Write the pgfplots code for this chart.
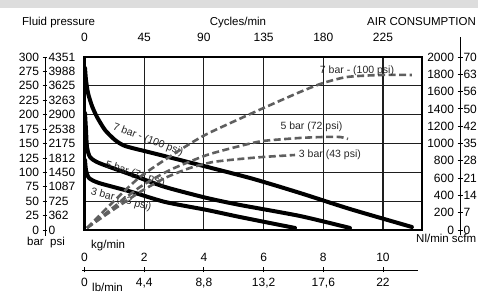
\documentclass[border=0pt]{standalone}
\usepackage{pgfplots}
\pgfplotsset{compat=1.18}
\usepackage{fontspec}
\setmainfont{Liberation Sans}
\definecolor{band}{RGB}{221,221,221}
\definecolor{dashgray}{RGB}{95,95,95}
\definecolor{gridc}{RGB}{30,30,30}
\newcommand{\tf}{\fontsize{12}{14}\selectfont}
\newcommand{\lf}{\fontsize{11.5}{13}\selectfont}
\newcommand{\cf}{\fontsize{10.5}{12}\selectfont}
\pgfplotsset{
  every axis/.append style={scale only axis, clip=false,
    /pgf/number format/assume math mode=true,
    /pgf/number format/1000 sep={},
    ticklabel style={font=\tf},
  },
}
\begin{document}
\begin{tikzpicture}[x=1pt,y=1pt]
\useasboundingbox (0pt,0pt) rectangle (491pt,296pt);
\fill[band] (0pt,288pt) rectangle (478pt,296pt);
% ---------- main axis (fluid pressure, bar) ----------
\begin{axis}[at={(84.5pt,66pt)}, anchor=south west, width=337.5pt, height=173pt,
  xmin=0, xmax=254.4, ymin=0, ymax=300,
  xtick={0,45,90,135,180,225}, ytick={0,50,100,150,200,250,300}, yticklabels={},
  xticklabel pos=upper, major tick length=0pt,
  xticklabel style={yshift=12pt},
  grid=major, grid style={gridc, line width=1.2pt},
  axis line style={black, line width=2.4pt},
]
\addplot[black, line width=4pt, smooth, tension=0.4, line cap=round] coordinates {
(0.38,280.9) (1.13,260.1) (2.64,237.6) (5.65,215.0) (9.42,196.0) (15.45,173.4) (22.99,156.1) (30.53,145.7) (48.6,135) (71.98,121.4) (124.7,90.2) (162.4,64.2) (200.1,36.4) (246.8,5.2)};
\addplot[black, line width=4pt, smooth, tension=0.4, line cap=round] coordinates {
(0.38,202.9) (1.13,173.4) (1.88,143.9) (4.15,126.6) (10.93,116.2) (35.8,95.4) (60.7,74.6) (92.3,55.5) (117.2,43.4) (162.4,24.3) (200.1,3.5)};
\addplot[black, line width=4pt, smooth, tension=0.4, line cap=round] coordinates {
(0.38,121.4) (1.13,104.0) (3.39,90.2) (10.93,81.5) (35.8,65.9) (60.7,48.6) (92.3,34.7) (117.2,22.5) (158.7,3.5)};
\node[rotate=-21, font=\cf, text=black!85] at (axis cs:47.9,156) {7 bar - (100 psi)};
\node[rotate=-18, font=\cf, text=black!85] at (axis cs:38.1,97) {5 bar (72 psi)};
\node[rotate=-15, font=\cf, text=black!85] at (axis cs:27.5,52) {3 bar (43 psi)};
\end{axis}
% ---------- air consumption curves (Nl/min) ----------
\begin{axis}[at={(84.5pt,66pt)}, anchor=south west, width=337.5pt, height=173pt,
  xmin=0, xmax=254.4, ymin=0, ymax=2000, hide axis]
\addplot[dashgray, line width=2.6pt, dash pattern=on 7pt off 3.5pt, smooth, tension=0.4] coordinates {
(1.88,23) (19.22,289) (41.83,613) (71.98,925) (92.33,1110) (130.0,1376) (162.4,1595) (179.8,1699) (197.9,1769) (222.7,1792) (246.8,1792)};
\addplot[dashgray, line width=2.6pt, dash pattern=on 7pt off 3.5pt, smooth, tension=0.4] coordinates {
(1.88,23) (19.22,231) (41.83,497) (64.45,694) (92.33,867) (117.2,971) (134.5,1029) (162.4,1064) (179.8,1075) (192.6,1075) (198.6,1052)};
\addplot[dashgray, line width=2.6pt, dash pattern=on 7pt off 3.5pt, smooth, tension=0.4] coordinates {
(1.88,23) (19.22,208) (41.83,439) (60.68,601) (79.5,717) (96.86,786) (117.2,821) (134.5,844) (158.7,867)};
\node[font=\cf, text=black!85] at (axis cs:205.4,1838) {7 bar - (100 psi)};
\node[font=\cf, text=black!85] at (axis cs:171.1,1191) {5 bar (72 psi)};
\node[font=\cf, text=black!85] at (axis cs:185.0,867) {3 bar (43 psi)};
\end{axis}
% ---------- left scales ----------
\begin{axis}[at={(45pt,60pt)}, anchor=south west, width=1pt, height=179pt,
  xmin=0, xmax=1, ymin=-10.4, ymax=300,
  axis x line=none, axis y line*=left,
  ytick={0,25,...,300}, tick align=center, major tick length=5pt,
  tick style={black, line width=0.8pt}, axis line style={black, line width=0.8pt}]
\end{axis}
\begin{axis}[at={(44pt,60pt)}, anchor=south west, width=1pt, height=179pt,
  xmin=0, xmax=1, ymin=-10.4, ymax=300,
  axis x line=none, axis y line*=right, axis line style={draw=none}, major tick length=0pt,
  ytick={0,25,...,300},
  yticklabels={0,362,725,1087,1450,1812,2175,2538,2900,3263,3625,3988,4351}]
\end{axis}
% ---------- right scales ----------
\begin{axis}[at={(460pt,61pt)}, anchor=south west, width=1pt, height=198pt,
  xmin=0, xmax=1, ymin=-58, ymax=2231,
  axis x line=none, axis y line*=left,
  ytick={0,200,...,2000}, tick align=center, major tick length=5pt,
  tick style={black, line width=0.8pt}, axis line style={black, line width=0.8pt}]
\end{axis}
\begin{axis}[at={(459pt,61pt)}, anchor=south west, width=1pt, height=198pt,
  xmin=0, xmax=1, ymin=-58, ymax=2231,
  axis x line=none, axis y line*=right, axis line style={draw=none}, major tick length=0pt,
  ytick={0,200,...,2000},
  yticklabels={0,7,14,21,28,35,42,50,56,63,70}]
\end{axis}
% ---------- bottom scales ----------
\begin{axis}[at={(84.5pt,46.6pt)}, anchor=south west, width=337.5pt, height=1pt,
  xmin=0, xmax=11.3067, ymin=0, ymax=1,
  axis y line=none, axis x line*=bottom, axis line style={draw=none}, major tick length=0pt,
  xtick={0,2,4,6,8,10}]
\end{axis}
\begin{axis}[at={(82pt,26pt)}, anchor=south west, width=336pt, height=1pt,
  xmin=-0.184, xmax=24.58, ymin=0, ymax=1,
  axis y line=none, axis x line*=bottom,
  tick align=center, major tick length=5pt,
  tick style={black, line width=0.8pt}, axis line style={black, line width=0.8pt},
  xtick={0,4.4,8.8,13.2,17.6,22}, xticklabels={0,{4,4},{8,8},{13,2},{17,6},22},
  xticklabel style={yshift=-2pt}]
\end{axis}
% ---------- axis titles ----------
\node[anchor=base west, font=\lf, inner sep=0] at (22pt,270pt) {Fluid pressure};
\node[anchor=base, font=\lf, inner sep=0] at (238pt,270pt) {Cycles/min};
\node[anchor=base west, font=\lf, inner sep=0] at (367pt,270pt) {AIR CONSUMPTION};
\node[anchor=base east, font=\lf, inner sep=0] at (44pt,50pt) {bar};
\node[anchor=base west, font=\lf, inner sep=0] at (50pt,50pt) {psi};
\node[anchor=base west, font=\lf, inner sep=0] at (91pt,47pt) {kg/min};
\node[anchor=base west, font=\lf, inner sep=0] at (92pt,4.5pt) {lb/min};
\node[anchor=base west, font=\lf, inner sep=0] at (416pt,53pt) {Nl/min scfm};
\end{tikzpicture}
\end{document}
